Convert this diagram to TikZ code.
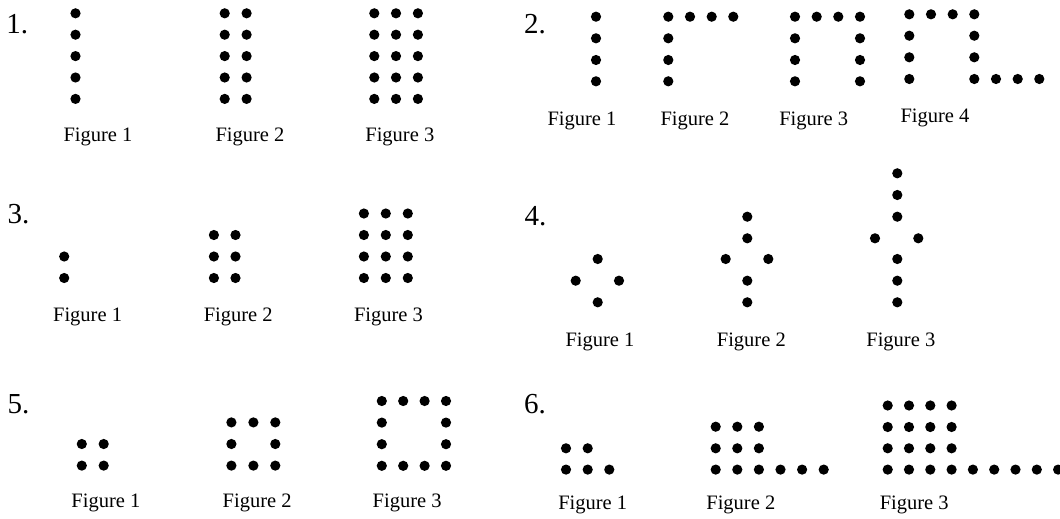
\documentclass[tikz,border=0pt]{standalone}
\usepackage{fontspec}
\setmainfont{Liberation Serif}
\begin{document}
\begin{tikzpicture}[x=1pt,y=-1pt,
  figlabel/.style={anchor=base,inner sep=0pt,font=\fontsize{20.5}{24}\selectfont},
  numlabel/.style={anchor=base west,inner sep=0pt,font=\fontsize{29}{34}\selectfont}]
\useasboundingbox (0,0) rectangle (1060,519);
\newcommand{\dt}[2]{\fill (#1,#2) circle[radius=5.1pt];}
% ---------- 1 ----------
\node[numlabel] (n1) at (6.1,33.3) {1.};
\foreach \y in {13.3,34.7,56.1,77.5,98.9}{
  \dt{75.5}{\y}
  \foreach \x in {224.7,246.6}{\dt{\x}{\y}}
  \foreach \x in {374.3,396,417.9}{\dt{\x}{\y}}
}
\node[figlabel] (p1a) at (98,141) {Figure 1};
\node[figlabel] (p1b) at (250,141) {Figure 2};
\node[figlabel] (p1c) at (399.8,141) {Figure 3};
% ---------- 2 ----------
\node[numlabel] (n2) at (524,33.3) {2.};
\foreach \y in {16.7,38.3,60,81.3}{\dt{596}{\y}}
\foreach \x in {668.3,690,711.7,733.3}{\dt{\x}{16.7}}
\foreach \y in {38.3,60,81.3}{\dt{668.3}{\y}}
\foreach \x in {795,816.7,838.3,860}{\dt{\x}{16.7}}
\foreach \y in {38.3,60,81.3}{\dt{795}{\y}\dt{860}{\y}}
\foreach \x in {909.3,931,952.7,974.3}{\dt{\x}{14.3}}
\foreach \y in {35.7,57.3,79}{\dt{909.3}{\y}\dt{974.3}{\y}}
\foreach \x in {996,1017.7,1039.3}{\dt{\x}{79}}
\node[figlabel] (p2a) at (582,125) {Figure 1};
\node[figlabel] (p2b) at (695,125) {Figure 2};
\node[figlabel] (p2c) at (813.7,125) {Figure 3};
\node[figlabel] (p2d) at (935,122.7) {Figure 4};
% ---------- 3 ----------
\node[numlabel] (n3) at (7.4,223.3) {3.};
\foreach \y in {256.5,278}{\dt{64.2}{\y}}
\foreach \y in {235,256.5,278}{\dt{213.9}{\y}\dt{235.5}{\y}}
\foreach \y in {213.5,235,256.5,278}{\dt{363.9}{\y}\dt{385.8}{\y}\dt{407.8}{\y}}
\node[figlabel] (p3a) at (87.6,321) {Figure 1};
\node[figlabel] (p3b) at (238.2,321) {Figure 2};
\node[figlabel] (p3c) at (388.5,321) {Figure 3};
% ---------- 4 ----------
\node[numlabel] (n4) at (524.5,225) {4.};
\dt{597.7}{259}\dt{575.7}{280.7}\dt{619}{280.7}\dt{597.7}{302.3}
\foreach \y in {216.7,238.3,280.7,302.3}{\dt{747.3}{\y}}
\dt{725.7}{259}\dt{768.3}{259}
\foreach \y in {173.3,195,216.7,259,280.7,302.3}{\dt{897.3}{\y}}
\dt{875}{238.3}\dt{918.3}{238.3}
\node[figlabel] (p4a) at (600,346.7) {Figure 1};
\node[figlabel] (p4b) at (751.3,346.7) {Figure 2};
\node[figlabel] (p4c) at (900.8,346.7) {Figure 3};
% ---------- 5 ----------
\node[numlabel] (n5) at (7.4,413.3) {5.};
\foreach \y in {444,465.6}{\dt{81.8}{\y}\dt{103.7}{\y}}
\foreach \x in {231.4,253.4,275.3}{\dt{\x}{422.4}\dt{\x}{465.6}}
\dt{231.4}{444}\dt{275.3}{444}
\foreach \x in {381.8,403.2,424.6,446}{\dt{\x}{401}\dt{\x}{465.8}}
\foreach \y in {422.6,444.2}{\dt{381.8}{\y}\dt{446}{\y}}
\node[figlabel] (p5a) at (105.9,507.6) {Figure 1};
\node[figlabel] (p5b) at (257.1,507.6) {Figure 2};
\node[figlabel] (p5c) at (407.1,507.6) {Figure 3};
% ---------- 6 ----------
\node[numlabel] (n6) at (524,413) {6.};
\dt{566}{448.3}\dt{587.7}{448.3}
\foreach \x in {566,587.7,609.3}{\dt{\x}{469.6}}
\foreach \k in {0,1,2}{\dt{715.7+\k*21.6}{426.7}\dt{715.7+\k*21.6}{448.3}}
\foreach \k in {0,...,5}{\dt{715.7+\k*21.6}{469.6}}
\foreach \k in {0,...,3}{\dt{887.7+\k*21.3}{405.5}\dt{887.7+\k*21.3}{427}\dt{887.7+\k*21.3}{448.3}}
\foreach \k in {0,...,8}{\dt{887.7+\k*21.3}{469.6}}
\node[figlabel] (p6a) at (592.7,509.3) {Figure 1};
\node[figlabel] (p6b) at (740.8,509.3) {Figure 2};
\node[figlabel] (p6c) at (914.2,509.3) {Figure 3};
\end{tikzpicture}
\end{document}
